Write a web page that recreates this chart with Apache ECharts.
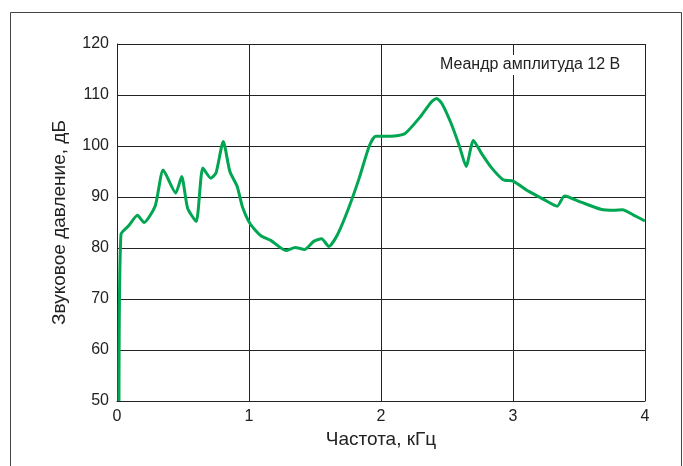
<!DOCTYPE html>
<html>
<head>
<meta charset="utf-8">
<script src="https://cdn.jsdelivr.net/npm/echarts@6/dist/echarts.min.js"></script>
<style>
  html, body { margin: 0; padding: 0; background: #fff; }
  #chart { width: 683px; height: 466px; }
</style>
</head>
<body>
<div id="chart"></div>
<script>
// частота, кГц
var freq = [0.015, 0.03, 0.09, 0.155, 0.205, 0.29, 0.35, 0.445, 0.49, 0.535, 0.6, 0.65, 0.71, 0.75, 0.805,
    0.855, 0.91, 0.95, 1.01, 1.09, 1.165, 1.28, 1.35, 1.42, 1.49, 1.55, 1.605, 1.67, 1.75, 1.835, 1.91,
    1.96, 2.08, 2.18, 2.3, 2.38, 2.42, 2.46, 2.53, 2.595, 2.645, 2.7, 2.76, 2.835, 2.925, 3.0,
    3.12, 3.235, 3.335, 3.39, 3.515, 3.665, 3.765, 3.83, 3.91, 4.0];
// звуковое давление, дБ
var spl = [50, 82.7, 84.4, 86.4, 85.0, 88.3, 95.3, 90.8, 94.0, 87.8, 85.2, 95.7, 93.7, 94.7, 100.9,
    95.0, 92.1, 88.1, 84.7, 82.4, 81.5, 79.5, 80.1, 79.7, 81.3, 81.8, 80.3, 82.6, 87.5, 93.7, 99.9,
    101.9, 101.9, 102.4, 105.8, 108.6, 109.3, 108.4, 104.5, 99.9, 96.0, 101.1, 98.6, 95.8, 93.4, 93.1,
    91.1, 89.5, 88.2, 90.2, 89.0, 87.6, 87.4, 87.5, 86.5, 85.3];

var yTicks = ['50', '60', '70', '80', '90', '100', '110', '120'];
var xTicks = ['0', '1', '2', '3', '4'];
var note = 'Меандр амплитуда 12 В';

var seriesData = [];
for (var i = 0; i < freq.length; i++) {
    seriesData.push([freq[i], spl[i]]);
}

var font = 'Liberation Sans, Arial, sans-serif';
var myChart = echarts.init(document.getElementById('chart'));
var option = {
    animation: false,
    backgroundColor: '#fff',
    title: {
        text: note,
        left: 434,
        top: 55,
        padding: [2, 6],
        backgroundColor: '#fff',
        textStyle: { fontFamily: font, fontSize: 16, fontWeight: 'normal', color: '#222' }
    },
    graphic: [{
        type: 'rect',
        shape: { x: 10.5, y: 12.5, width: 671, height: 470 },
        style: { fill: 'none', stroke: '#444', lineWidth: 1 },
        silent: true
    }],
    grid: { left: 117, right: 38, top: 44, bottom: 65, containLabel: false },
    xAxis: {
        type: 'value',
        min: 0,
        max: 4,
        interval: 1,
        name: 'Частота, кГц',
        nameLocation: 'middle',
        nameGap: 28,
        nameTextStyle: { fontFamily: font, fontSize: 19, color: '#222' },
        axisLine: { show: true, lineStyle: { color: '#222', width: 1 } },
        axisTick: { show: false },
        axisLabel: {
            fontFamily: font, fontSize: 16, color: '#222', margin: 8,
            formatter: function (v) { return xTicks[Math.round(v)]; }
        },
        splitLine: { show: true, lineStyle: { color: '#222', width: 1 } }
    },
    yAxis: {
        type: 'value',
        min: 50,
        max: 120,
        interval: 10,
        name: 'Звуковое давление, дБ',
        nameLocation: 'middle',
        nameGap: 48,
        nameRotate: 90,
        nameTextStyle: { fontFamily: font, fontSize: 19, color: '#222' },
        axisLine: { show: true, lineStyle: { color: '#222', width: 1 } },
        axisTick: { show: false },
        axisLabel: {
            fontFamily: font, fontSize: 16, color: '#222', margin: 8,
            formatter: function (v) { return yTicks[Math.round((v - 50) / 10)]; }
        },
        splitLine: { show: true, lineStyle: { color: '#222', width: 1 } }
    },
    series: [{
        type: 'line',
        data: seriesData,
        smooth: 0.2,
        showSymbol: false,
        lineStyle: { color: '#00a651', width: 3 },
        itemStyle: { color: '#00a651' }
    }]
};
myChart.setOption(option);
</script>
</body>
</html>
